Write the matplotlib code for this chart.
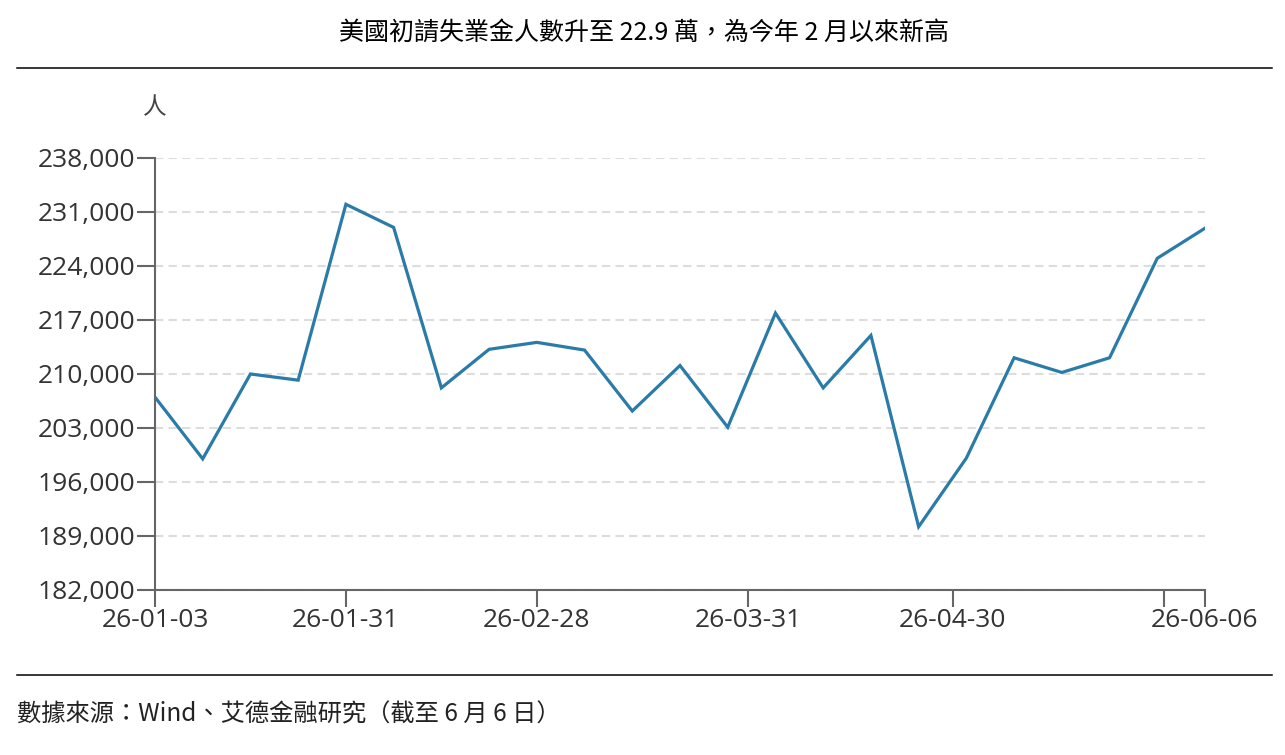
import matplotlib
matplotlib.use("Agg")
import matplotlib.pyplot as plt
from matplotlib.lines import Line2D
from matplotlib.ticker import FuncFormatter
import pandas as pd

# ---- data ----
dates = ["2026-01-03", "2026-01-10", "2026-01-17", "2026-01-24", "2026-01-31",
         "2026-02-07", "2026-02-14", "2026-02-21", "2026-02-28", "2026-03-07",
         "2026-03-14", "2026-03-21", "2026-03-28", "2026-04-04", "2026-04-11",
         "2026-04-18", "2026-04-25", "2026-05-02", "2026-05-09", "2026-05-16",
         "2026-05-23", "2026-05-30", "2026-06-06"]
claims = [207000, 199000, 210000, 209200, 232000, 229000, 208200, 213200, 214100,
          213100, 205200, 211100, 203100, 217900, 208200, 215000, 190200, 199100,
          212100, 210200, 212100, 225000, 228900]
tick_dates = ["2026-01-03", "2026-01-31", "2026-02-28", "2026-03-31",
              "2026-04-30", "2026-05-31", "2026-06-06"]
tick_labels = ["26-01-03", "26-01-31", "26-02-28", "26-03-31", "26-04-30", "", "26-06-06"]
y_ticks = [182000, 189000, 196000, 203000, 210000, 217000, 224000, 231000, 238000]

title = "美國初請失業金人數升至 22.9 萬，為今年 2 月以來新高"
unit = "人"
source = "數據來源：Wind、艾德金融研究（截至 6 月 6 日）"

CJK = ["Noto Sans CJK TC", "DejaVu Sans"]
NUM = ["Open Sans", "DejaVu Sans"]

W, H = 1285, 755
fig = plt.figure(figsize=(W / 100, H / 100), dpi=100)
ax = fig.add_axes([155 / W, 1 - 590 / H, 1050 / W, 432 / H])

x = pd.to_datetime(dates)
ax.plot(x, claims, color="#2a7ba8", lw=2.3, solid_joinstyle="miter", zorder=3)

ax.set_xlim(pd.Timestamp(dates[0]), pd.Timestamp(dates[-1]))
ax.set_ylim(y_ticks[0], y_ticks[-1])
ax.set_yticks(y_ticks)
ax.yaxis.set_major_formatter(FuncFormatter(lambda v, p: f"{int(v):,}"))
ax.set_xticks(pd.to_datetime(tick_dates))
ax.set_xticklabels(tick_labels)

for s in ["top", "right"]:
    ax.spines[s].set_visible(False)
for s in ["left", "bottom"]:
    ax.spines[s].set_color("#666666")
    ax.spines[s].set_linewidth(1.5)

ax.tick_params(axis="y", length=13, width=1.5, color="#666666", pad=1,
               labelsize=19, labelcolor="#333333")
ax.tick_params(axis="x", length=12, width=1.5, color="#666666", pad=1,
               labelsize=19, labelcolor="#333333")
for lab in ax.get_xticklabels() + ax.get_yticklabels():
    lab.set_fontfamily(NUM)

ax.yaxis.grid(True, linestyle=(0, (4, 2.5)), color="#dddddd", lw=1.5, zorder=0)
ax.set_axisbelow(True)

# title, unit, separators, footer
fig.text(644 / W, 1 - 33 / H, title, ha="center", va="center",
         fontsize=18, family=CJK, color="#000000")
fig.add_artist(Line2D([17 / W, 1272 / W], [1 - 68 / H] * 2, color="black", lw=1.1))
fig.add_artist(Line2D([17 / W, 1272 / W], [1 - 675 / H] * 2, color="black", lw=1.1))
fig.text(155 / W, 1 - 108 / H, unit, ha="center", va="center",
         fontsize=17, family=CJK, color="#444444")
fig.text(17 / W, 1 - 714 / H, source, ha="left", va="center",
         fontsize=17.5, family=CJK, color="#222222", style="italic")

fig.savefig("out.png", dpi=100, facecolor="white")
